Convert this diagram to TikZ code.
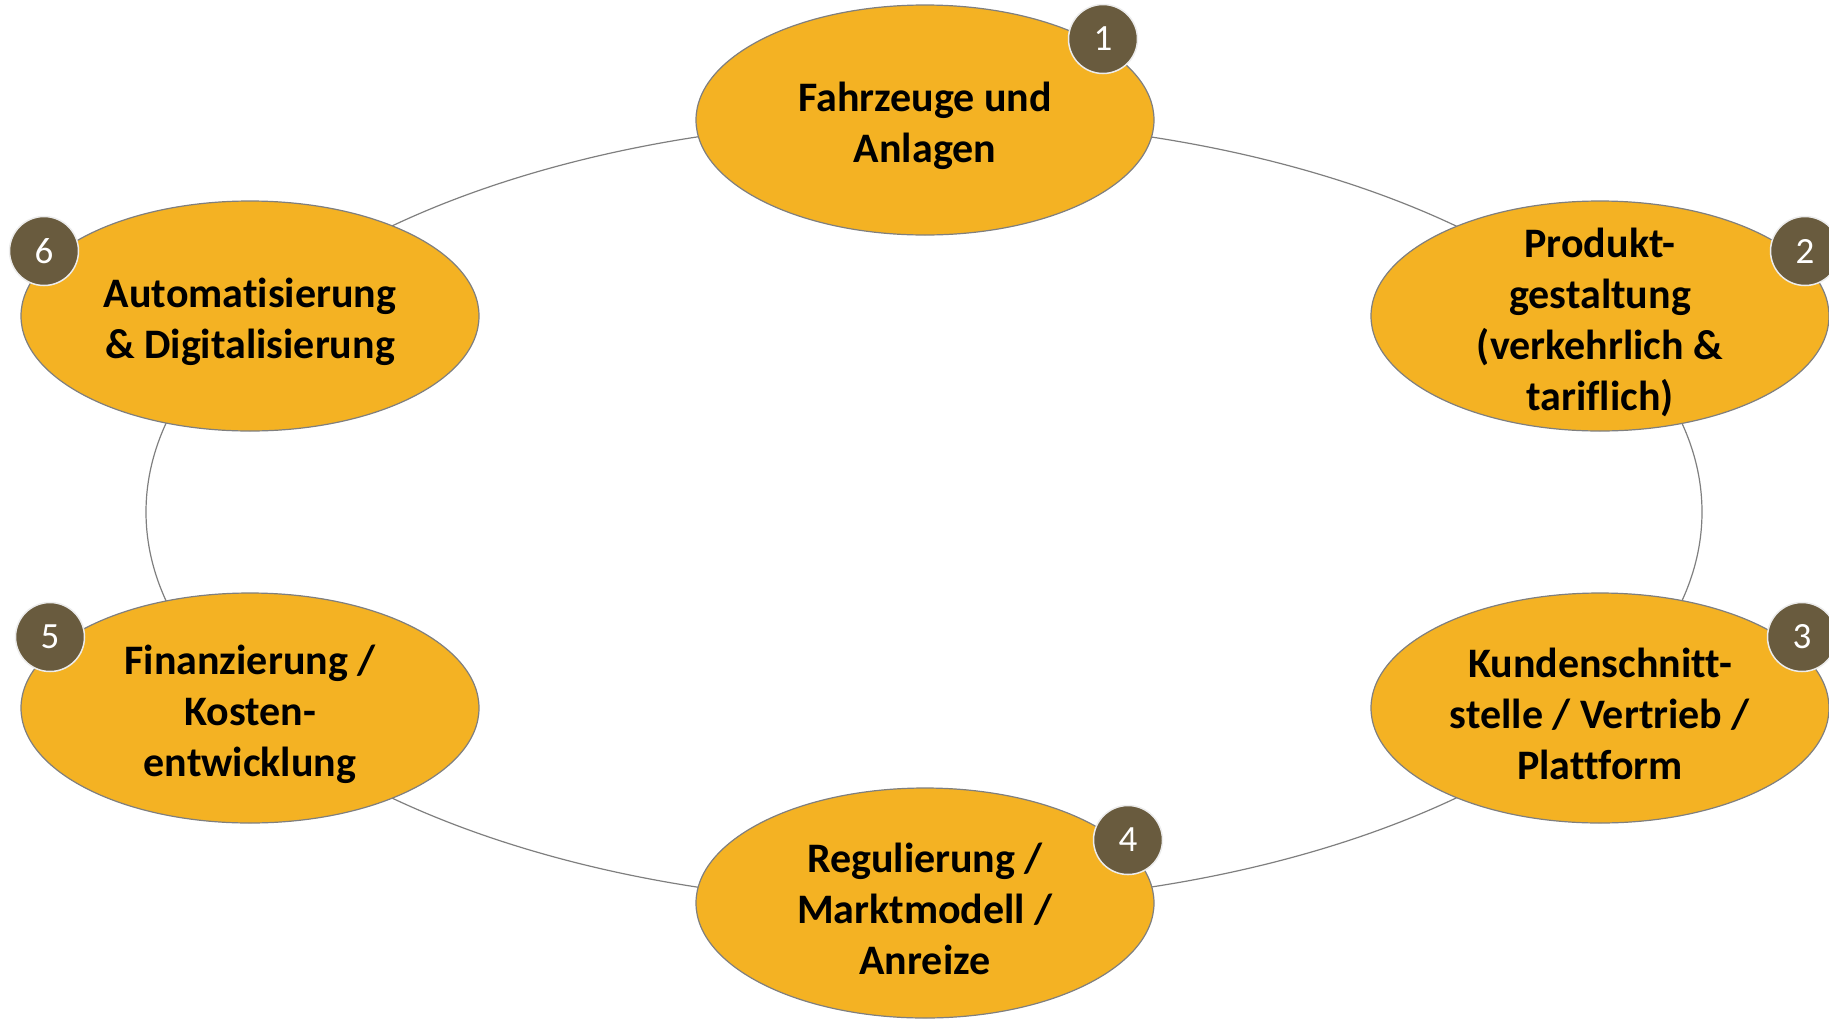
\documentclass[tikz,border=0pt]{standalone}
\usepackage{fontspec}
\setmainfont[Ligatures=NoCommon]{Carlito}
\usetikzlibrary{shapes.geometric}
\definecolor{topic}{HTML}{F4B223}
\definecolor{badgefill}{HTML}{695B3E}
\definecolor{edgegrey}{HTML}{7F7F7F}
\tikzset{
  topicnode/.style={ellipse, draw=edgegrey, line width=1.2pt, fill=topic,
    minimum width=458pt, minimum height=230pt, inner sep=0pt},
  topictext/.style={inner sep=0pt, align=center, yshift=-6pt,
    font=\fontsize{42}{51}\selectfont\bfseries},
  badge/.style={circle, draw=white!85!gray, line width=1.5pt, fill=badgefill,
    minimum size=69pt, inner sep=0pt, text=white,
    font=\fontsize{37}{37}\selectfont},
  ringline/.style={ellipse, draw=edgegrey, line width=1.2pt,
    minimum width=1556pt, minimum height=784pt, inner sep=0pt}
}
\begin{document}
\begin{tikzpicture}[x=1pt,y=-1pt]
\useasboundingbox (0,0) rectangle (1829,1018);
\node[ringline] (ring) at (924,512) {};
\node[topicnode] (t1) at (925,120) {};
\node[topicnode] (t2) at (1600,316) {};
\node[topicnode] (t3) at (1600,708) {};
\node[topicnode] (t4) at (925,903) {};
\node[topicnode] (t5) at (250,708) {};
\node[topicnode] (t6) at (250,316) {};
\node[topictext] (l1) at (t1.center) {Fahrzeuge und\\Anlagen};
\node[topictext] (l2) at (t2.center) {Produkt-\\gestaltung\\(verkehrlich \&\\tariflich)};
\node[topictext] (l3) at (t3.center) {Kundenschnitt-\\stelle / Vertrieb /\\Plattform};
\node[topictext] (l4) at (t4.center) {Regulierung /\\Marktmodell /\\Anreize};
\node[topictext] (l5) at (t5.center) {Finanzierung /\\Kosten-\\entwicklung};
\node[topictext] (l6) at (t6.center) {Automatisierung\\\& Digitalisierung};
\node[badge] (b1) at (1103,39) {1};
\node[badge] (b2) at (1805,251) {2};
\node[badge] (b3) at (1802,637) {3};
\node[badge] (b4) at (1128,840) {4};
\node[badge] (b5) at (50,637) {5};
\node[badge] (b6) at (44,251) {6};
\end{tikzpicture}
\end{document}
